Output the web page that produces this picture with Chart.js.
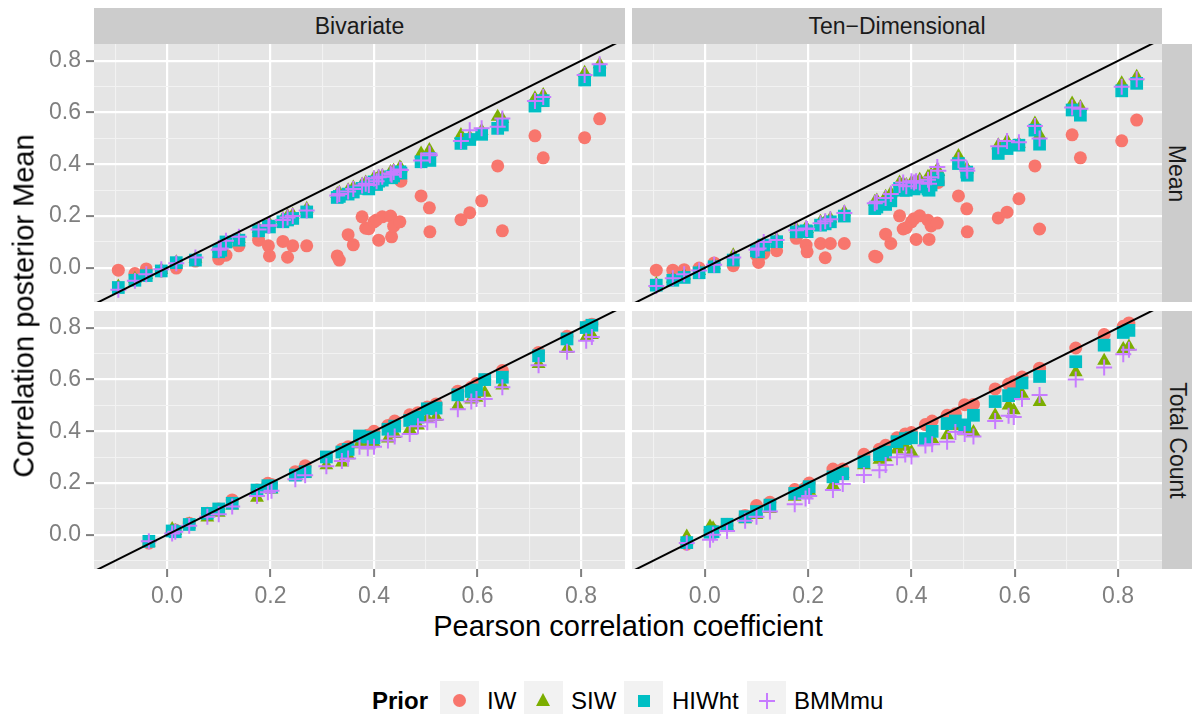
<!DOCTYPE html>
<html>
<head>
<meta charset="utf-8">
<script src="https://cdn.jsdelivr.net/npm/chart.js@4/dist/chart.umd.min.js"></script>
<style>
body { margin: 0; width: 1195px; height: 714px; background: #fff; position: relative; overflow: hidden; font-family: 'Liberation Sans', Arial, sans-serif; }
.abs { position: absolute; }
.strip { position: absolute; background: #CCCCCC; color: #1A1A1A; font-size: 23px; display: flex; align-items: center; justify-content: center; }
.strip.v span { transform: rotate(90deg); white-space: nowrap; }
.title { position: absolute; color: #000; font-size: 29px; white-space: nowrap; }
.key { position: absolute; top: 681px; width: 39px; height: 39px; background: #F2F2F2; }
.ltext { position: absolute; top: 681px; height: 39px; line-height: 39px; font-size: 24px; color: #000; white-space: nowrap; }
</style>
</head>
<body>
<canvas id="tl" class="abs" width="625" height="258" style="left:0px;top:44px"></canvas>
<canvas id="tr" class="abs" width="530" height="258" style="left:632px;top:44px"></canvas>
<canvas id="bl" class="abs" width="625" height="298" style="left:0px;top:311px"></canvas>
<canvas id="br" class="abs" width="530" height="298" style="left:632px;top:311px"></canvas>

<div class="strip" style="left:94px;top:8px;width:531px;height:36px">Bivariate</div>
<div class="strip" style="left:632px;top:8px;width:530px;height:36px">Ten−Dimensional</div>
<div class="strip v" style="left:1162px;top:44px;width:30px;height:258px"><span>Mean</span></div>
<div class="strip v" style="left:1162px;top:311px;width:30px;height:258px"><span>Total Count</span></div>

<div class="title" style="left:628px;top:610px;transform:translateX(-50%)">Pearson correlation coefficient</div>
<div class="title" style="left:24px;top:306px;transform:translate(-50%,-50%) rotate(-90deg)">Correlation posterior Mean</div>

<div class="ltext" style="left:372px;font-weight:bold">Prior</div>
<div class="key" style="left:440px"><div class="abs" style="left:13px;top:13px;width:13px;height:13px;border-radius:50%;background:#F8766D"></div></div>
<div class="ltext" style="left:487px">IW</div>
<div class="key" style="left:524px"><div class="abs" style="left:12px;top:12px;width:0;height:0;border-left:7.5px solid transparent;border-right:7.5px solid transparent;border-bottom:13px solid #7CAE00"></div></div>
<div class="ltext" style="left:571px">SIW</div>
<div class="key" style="left:624px"><div class="abs" style="left:13.5px;top:13.5px;width:12px;height:12px;background:#00BFC4"></div></div>
<div class="ltext" style="left:672px">HIWht</div>
<div class="key" style="left:747px"><div class="abs" style="left:11.5px;top:18.5px;width:16px;height:2px;background:#C77CFF"></div><div class="abs" style="left:18.5px;top:11.5px;width:2px;height:16px;background:#C77CFF"></div></div>
<div class="ltext" style="left:794px">BMMmu</div>

<script>
// x values (Pearson correlation) for the Mean row and the Total Count row
const meanR = [-0.094, -0.062, -0.040, -0.011, 0.018, 0.055, 0.100, 0.104, 0.114, 0.139,
  0.177, 0.196, 0.198, 0.224, 0.233, 0.243, 0.270, 0.329, 0.333, 0.350,
  0.360, 0.377, 0.384, 0.390, 0.400, 0.405, 0.409, 0.416, 0.432, 0.434,
  0.438, 0.450, 0.452, 0.491, 0.507, 0.508, 0.568, 0.585, 0.608, 0.639,
  0.648, 0.711, 0.727, 0.807, 0.836];
const countR = [-0.035, 0.010, 0.016, 0.043, 0.078, 0.100, 0.126, 0.174, 0.195, 0.202,
  0.248, 0.267, 0.308, 0.338, 0.350, 0.372, 0.388, 0.400, 0.427, 0.440,
  0.469, 0.485, 0.503, 0.520, 0.562, 0.588, 0.598, 0.614, 0.648, 0.718,
  0.773, 0.810, 0.821];

// Bivariate / Mean
const biMeanIW = [-0.009, -0.022, -0.004, -0.012, -0.001, 0.026, 0.034, 0.045, 0.049, 0.085,
  0.107, 0.085, 0.046, 0.102, 0.041, 0.085, 0.085, 0.046, 0.030, 0.128,
  0.089, 0.197, 0.153, 0.151, 0.178, 0.185, 0.107, 0.197, 0.200, 0.120,
  0.161, 0.178, 0.335, 0.278, 0.232, 0.139, 0.186, 0.213, 0.259, 0.394,
  0.143, 0.510, 0.425, 0.503, 0.576];
const biMeanSIW = [-0.072, -0.042, -0.028, -0.008, 0.022, 0.035, 0.075, 0.080, 0.095, 0.112,
  0.150, 0.168, 0.170, 0.190, 0.200, 0.205, 0.228, 0.285, 0.290, 0.300,
  0.310, 0.322, 0.330, 0.325, 0.348, 0.340, 0.352, 0.355, 0.370, 0.365,
  0.375, 0.388, 0.385, 0.442, 0.455, 0.445, 0.513, 0.505, 0.530, 0.584,
  0.575, 0.655, 0.668, 0.754, 0.787];
const biMeanHIW = [-0.076, -0.048, -0.030, -0.012, 0.020, 0.030, 0.062, 0.068, 0.100, 0.107,
  0.143, 0.161, 0.158, 0.178, 0.185, 0.191, 0.216, 0.272, 0.276, 0.285,
  0.293, 0.307, 0.312, 0.305, 0.332, 0.322, 0.335, 0.339, 0.352, 0.348,
  0.355, 0.371, 0.366, 0.410, 0.423, 0.415, 0.481, 0.496, 0.516, 0.539,
  0.552, 0.625, 0.646, 0.726, 0.764];
const biMeanBMM = [-0.085, -0.050, -0.025, -0.005, 0.018, 0.040, 0.070, 0.075, 0.105, 0.120,
  0.148, 0.163, 0.165, 0.185, 0.195, 0.200, 0.222, 0.280, 0.285, 0.295,
  0.305, 0.318, 0.325, 0.320, 0.345, 0.335, 0.350, 0.352, 0.365, 0.360,
  0.370, 0.380, 0.378, 0.415, 0.442, 0.435, 0.490, 0.532, 0.539, 0.545,
  0.577, 0.645, 0.660, 0.745, 0.787];

// Ten-Dimensional / Mean
const tenMeanIW = [-0.009, -0.009, -0.007, -0.001, 0.019, 0.008, 0.049, 0.021, 0.056, 0.066,
  0.114, 0.088, 0.062, 0.094, 0.039, 0.094, 0.094, 0.045, 0.042, 0.130,
  0.094, 0.201, 0.150, 0.155, 0.178, 0.190, 0.110, 0.201, 0.184, 0.110,
  0.162, 0.173, 0.330, 0.278, 0.228, 0.139, 0.193, 0.215, 0.267, 0.394,
  0.150, 0.514, 0.425, 0.491, 0.571];
const tenMeanSIW = [-0.062, -0.042, -0.030, -0.012, 0.010, 0.049, 0.075, 0.070, 0.095, 0.110,
  0.150, 0.155, 0.150, 0.178, 0.180, 0.190, 0.215, 0.255, 0.260, 0.275,
  0.288, 0.330, 0.325, 0.320, 0.330, 0.325, 0.335, 0.340, 0.352, 0.330,
  0.360, 0.380, 0.370, 0.432, 0.384, 0.380, 0.474, 0.490, 0.480, 0.558,
  0.513, 0.635, 0.622, 0.713, 0.738];
const tenMeanHIW = [-0.067, -0.048, -0.037, -0.019, 0.004, 0.030, 0.066, 0.062, 0.088, 0.101,
  0.139, 0.143, 0.140, 0.165, 0.170, 0.178, 0.200, 0.229, 0.235, 0.245,
  0.259, 0.307, 0.300, 0.300, 0.313, 0.305, 0.313, 0.313, 0.305, 0.300,
  0.320, 0.345, 0.340, 0.403, 0.370, 0.358, 0.442, 0.461, 0.474, 0.532,
  0.478, 0.610, 0.590, 0.684, 0.713];
const tenMeanBMM = [-0.070, -0.040, -0.025, -0.010, 0.012, 0.040, 0.070, 0.075, 0.100, 0.108,
  0.145, 0.152, 0.150, 0.172, 0.180, 0.188, 0.212, 0.250, 0.255, 0.270,
  0.285, 0.320, 0.330, 0.315, 0.335, 0.330, 0.335, 0.330, 0.340, 0.325,
  0.350, 0.390, 0.375, 0.416, 0.384, 0.375, 0.470, 0.490, 0.485, 0.548,
  0.500, 0.620, 0.615, 0.700, 0.729];

// Bivariate / Total Count
const biCountIW = [-0.032, 0.015, 0.019, 0.045, 0.083, 0.100, 0.135, 0.173, 0.199, 0.195,
  0.244, 0.267, 0.298, 0.331, 0.340, 0.370, 0.385, 0.400, 0.423, 0.440,
  0.464, 0.472, 0.494, 0.506, 0.555, 0.570, 0.585, 0.600, 0.635, 0.705,
  0.767, 0.805, 0.814];
const biCountSIW = [-0.030, 0.023, 0.015, 0.040, 0.067, 0.085, 0.113, 0.143, 0.180, 0.175,
  0.225, 0.237, 0.269, 0.280, 0.308, 0.350, 0.346, 0.355, 0.372, 0.390,
  0.408, 0.423, 0.449, 0.455, 0.500, 0.523, 0.530, 0.549, 0.577, 0.660,
  0.718, 0.765, 0.772];
const biCountHIW = [-0.025, 0.015, 0.012, 0.040, 0.083, 0.100, 0.122, 0.173, 0.190, 0.185,
  0.231, 0.244, 0.301, 0.320, 0.330, 0.382, 0.378, 0.375, 0.408, 0.420,
  0.442, 0.455, 0.487, 0.490, 0.541, 0.554, 0.560, 0.600, 0.609, 0.692,
  0.757, 0.801, 0.810];
const biCountBMM = [-0.025, 0.005, 0.012, 0.035, 0.070, 0.080, 0.110, 0.150, 0.165, 0.170,
  0.215, 0.230, 0.265, 0.285, 0.295, 0.340, 0.335, 0.340, 0.365, 0.380,
  0.390, 0.420, 0.435, 0.445, 0.485, 0.515, 0.525, 0.525, 0.570, 0.655,
  0.708, 0.750, 0.765];

// Ten-Dimensional / Total Count
const tenCountIW = [-0.036, 0.012, 0.018, 0.036, 0.075, 0.113, 0.126, 0.175, 0.182, 0.200,
  0.254, 0.254, 0.311, 0.331, 0.346, 0.375, 0.390, 0.395, 0.426, 0.440,
  0.462, 0.468, 0.503, 0.504, 0.564, 0.583, 0.592, 0.610, 0.644, 0.722,
  0.774, 0.806, 0.819];
const tenCountSIW = [-0.006, 0.032, 0.025, 0.035, 0.060, 0.077, 0.100, 0.147, 0.160, 0.170,
  0.192, 0.236, 0.269, 0.290, 0.300, 0.330, 0.340, 0.320, 0.359, 0.370,
  0.385, 0.420, 0.400, 0.397, 0.462, 0.500, 0.481, 0.545, 0.513, 0.628,
  0.673, 0.718, 0.728];
const tenCountHIW = [-0.030, 0.010, 0.012, 0.041, 0.070, 0.090, 0.115, 0.160, 0.170, 0.186,
  0.224, 0.236, 0.282, 0.310, 0.320, 0.360, 0.372, 0.375, 0.372, 0.400,
  0.430, 0.440, 0.425, 0.462, 0.515, 0.538, 0.545, 0.587, 0.612, 0.669,
  0.733, 0.782, 0.790];
const tenCountBMM = [-0.032, -0.019, 0.000, 0.015, 0.054, 0.070, 0.090, 0.118, 0.140, 0.150,
  0.173, 0.196, 0.231, 0.250, 0.270, 0.300, 0.310, 0.303, 0.345, 0.350,
  0.360, 0.397, 0.390, 0.380, 0.440, 0.460, 0.455, 0.525, 0.540, 0.600,
  0.647, 0.698, 0.715];

const tickVals = [-0.1, 0, 0.1, 0.2, 0.3, 0.4, 0.5, 0.6, 0.7, 0.8];
const refLine = [-0.3, 1.0];
const xRange = [-0.141, 0.885];
const yRange = [-0.132, 0.865];

const priors = ['IW', 'SIW', 'HIWht', 'BMMmu'];
const colors = ['#F8766D', '#7CAE00', '#00BFC4', '#C77CFF'];
const shapes = ['circle', 'triangle', 'rect', 'cross'];
const radii = [6.5, 8, 9, 8];

Chart.defaults.font.family = "'Liberation Sans', Arial, sans-serif";
Chart.defaults.animation = false;

const panelBg = {
    id: 'panelBg',
    beforeDraw(chart) {
        const a = chart.chartArea;
        const ctx = chart.ctx;
        ctx.save();
        ctx.fillStyle = '#E5E5E5';
        ctx.fillRect(a.left, a.top, a.right - a.left, a.bottom - a.top);
        ctx.restore();
    }
};

function isMajor(v) {
    return Math.abs(Math.round(v * 10)) % 2 === 0;
}

function axis(range, show, isX) {
    return {
        type: 'linear',
        min: range[0],
        max: range[1],
        afterBuildTicks: s => { s.ticks = tickVals.map(v => ({ value: v })); },
        afterFit: s => {
            if (isX) s.height = show ? 40 : 0;
            else s.width = show ? 94 : 0;
            s.paddingTop = 0;
            s.paddingBottom = 0;
            s.paddingLeft = 0;
            s.paddingRight = 0;
        },
        border: { display: false },
        grid: {
            color: c => isMajor(c.tick.value) ? '#FFFFFF' : '#F2F2F2',
            lineWidth: c => isMajor(c.tick.value) ? 2.2 : 1.1,
            drawTicks: show,
            tickLength: 8,
            tickWidth: 2,
            tickColor: c => isMajor(c.tick.value) ? '#7F7F7F' : 'rgba(0,0,0,0)'
        },
        ticks: {
            display: show,
            autoSkip: false,
            maxRotation: 0,
            padding: isX ? 6 : 5,
            color: '#7F7F7F',
            font: { size: 23 },
            callback: v => isMajor(v) ? v.toFixed(1) : ''
        }
    };
}

function panel(id, xs, series, showX, showY) {
    const datasets = series.map((ys, k) => ({
        label: priors[k],
        data: xs.map((x, i) => ({ x: x, y: ys[i] })),
        pointStyle: shapes[k],
        pointRadius: radii[k],
        backgroundColor: colors[k],
        borderColor: colors[k],
        borderWidth: k === 3 ? 2 : 0,
        order: 4 - k
    }));
    datasets.push({
        label: 'y = x',
        data: refLine.map(v => ({ x: v, y: v })),
        showLine: true,
        pointRadius: 0,
        borderColor: '#000000',
        borderWidth: 2,
        order: 0
    });
    new Chart(document.getElementById(id), {
        type: 'scatter',
        data: { datasets: datasets },
        options: {
            responsive: false,
            events: [],
            layout: { autoPadding: false, padding: 0 },
            plugins: { legend: { display: false }, tooltip: { enabled: false } },
            scales: {
                x: axis(xRange, showX, true),
                y: axis(yRange, showY, false)
            }
        },
        plugins: [panelBg]
    });
}

panel('tl', meanR, [biMeanIW, biMeanSIW, biMeanHIW, biMeanBMM], false, true);
panel('tr', meanR, [tenMeanIW, tenMeanSIW, tenMeanHIW, tenMeanBMM], false, false);
panel('bl', countR, [biCountIW, biCountSIW, biCountHIW, biCountBMM], true, true);
panel('br', countR, [tenCountIW, tenCountSIW, tenCountHIW, tenCountBMM], true, false);
</script>
</body>
</html>
